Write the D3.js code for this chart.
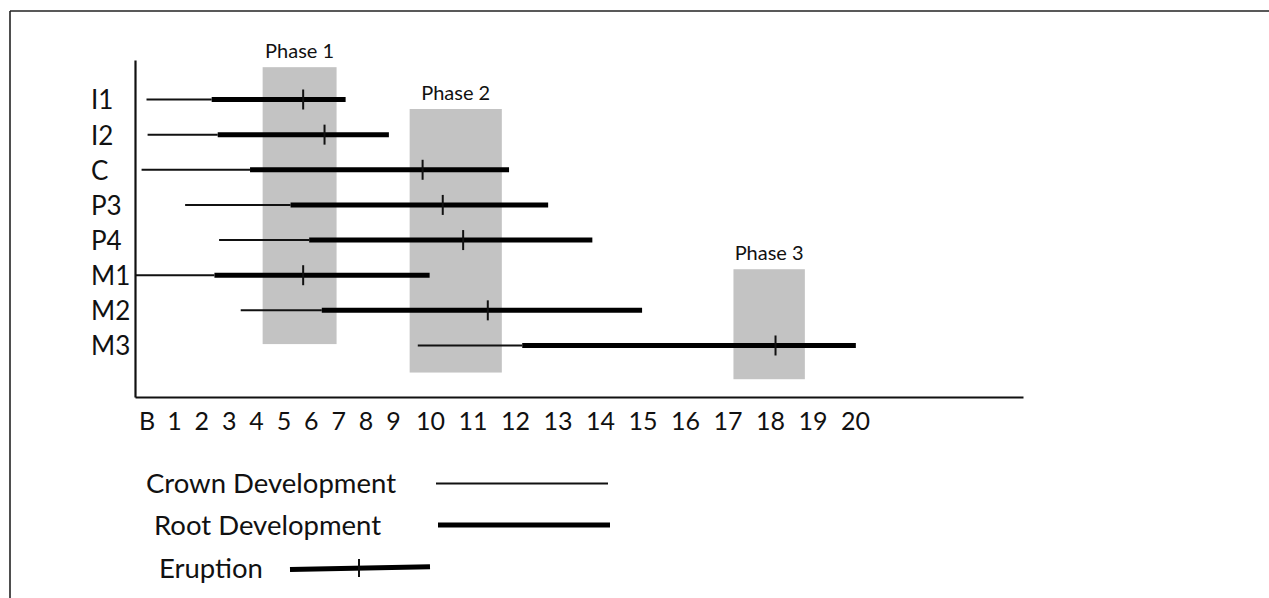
<!DOCTYPE html>
<html><head><meta charset="utf-8">
<script src="https://cdn.jsdelivr.net/npm/d3@7"></script>
<style>
body{margin:0;background:#fff}
svg{display:block}
text{font-family:Lato,"Open Sans",sans-serif;fill:#111}
</style>
</head><body>
<svg id="chart" width="1269" height="598"></svg>
<script>
// ---- data (ages in years) ----
const teeth = ["I1","I2","C","P3","P4","M1","M2","M3"];
const crownStart = [0.00, 0.04, -0.18, 1.41, 2.65, -0.42, 3.44, 9.67];
const rootStart  = [2.38, 2.60, 3.78, 5.26, 5.94, 2.48, 6.40, 12.17];
const rootEnd    = [7.27, 8.85, 11.86, 12.78, 13.82, 9.99, 14.99, 20.02];
const eruption   = [5.72, 6.50, 9.80, 10.30, 10.78, 5.72, 11.36, 18.13];

const tickValues = [0,1,2,3,4,5,6,7,8,9,10,11,12,13,14,15,16,17,18,19,20];
const tickLabels = ["B","1","2","3","4","5","6","7","8","9","10","11","12","13","14","15","16","17","18","19","20"];

const phaseNames = ["Phase 1","Phase 2","Phase 3"];
const phaseStart = [4.24, 9.45, 17.14];
const phaseEnd   = [6.94, 11.69, 18.82];
const phaseTopRow    = [-0.92, 0.27, 4.83];  // in row units (0 = I1, 7 = M3)
const phaseBottomRow = [6.96, 7.77, 7.96];

const legendLabels = ["Crown Development","Root Development","Eruption"];

// ---- scales ----
const svg = d3.select("#chart");
// label spacing on the axis is irregular (single vs double digit)
const x = d3.scaleLinear()
  .domain([-0.42, 0, 9, 10, 20, 23.95])
  .range([135, 146.5, 393, 430, 855, 1023]);
const y = d3.scalePoint().domain(teeth).range([60, 397]).padding(1.295).align(0.434);
const rowY = d3.scaleLinear().domain([0, teeth.length - 1]).range([y(teeth[0]), y(teeth[teeth.length - 1])]);

// ---- frame ----
svg.append("line").attr("x1",10).attr("x2",1269).attr("y1",11).attr("y2",11)
  .attr("stroke","#222").attr("stroke-width",1.6);
svg.append("line").attr("x1",10).attr("x2",10).attr("y1",11).attr("y2",598)
  .attr("stroke","#222").attr("stroke-width",1.6);

// ---- phase boxes ----
const phases = phaseNames.map((n,i)=>({name:n,s:phaseStart[i],e:phaseEnd[i],t:phaseTopRow[i],b:phaseBottomRow[i]}));
svg.append("g").selectAll("rect").data(phases).join("rect")
  .attr("x",d=>x(d.s)).attr("width",d=>x(d.e)-x(d.s))
  .attr("y",d=>rowY(d.t)).attr("height",d=>rowY(d.b)-rowY(d.t))
  .attr("fill","#c3c3c3");
svg.append("g").selectAll("text").data(phases).join("text")
  .attr("x",d=>(x(d.s)+x(d.e))/2).attr("y",d=>rowY(d.t)-9)
  .attr("text-anchor","middle").attr("font-size",20).text(d=>d.name);

// ---- axes ----
const xAxis = d3.axisBottom(x).tickValues(tickValues)
  .tickFormat((d,i)=>tickLabels[i]).tickSize(0).tickSizeOuter(0);
const gx = svg.append("g").attr("transform","translate(0,397)").call(xAxis);
gx.select(".domain").attr("stroke","#111").attr("stroke-width",2.2);
gx.selectAll("text").attr("font-size",25).attr("font-family","Lato, 'Open Sans', sans-serif")
  .attr("fill","#111").attr("y",33).attr("dy",0);

const yAxis = d3.axisLeft(y).tickSize(0).tickSizeOuter(0);
const gy = svg.append("g").attr("transform","translate(135,0)").call(yAxis);
gy.select(".domain").attr("stroke","#111").attr("stroke-width",2.2);
gy.selectAll("text").attr("font-size",26).attr("font-family","Lato, 'Open Sans', sans-serif")
  .attr("fill","#111").attr("text-anchor","start").attr("x",-44).attr("dy","0.36em");

// ---- bars ----
const rows = teeth.map((t,i)=>({t,cs:crownStart[i],rs:rootStart[i],re:rootEnd[i],er:eruption[i]}));
const g = svg.append("g");
g.selectAll(".crown").data(rows).join("line").attr("class","crown")
  .attr("x1",d=>x(d.cs)).attr("x2",d=>x(d.rs)).attr("y1",d=>y(d.t)).attr("y2",d=>y(d.t))
  .attr("stroke","#111").attr("stroke-width",2);
g.selectAll(".root").data(rows).join("line").attr("class","root")
  .attr("x1",d=>x(d.rs)).attr("x2",d=>x(d.re)).attr("y1",d=>y(d.t)).attr("y2",d=>y(d.t))
  .attr("stroke","#000").attr("stroke-width",5);
g.selectAll(".erupt").data(rows).join("line").attr("class","erupt")
  .attr("x1",d=>x(d.er)).attr("x2",d=>x(d.er)).attr("y1",d=>y(d.t)-10).attr("y2",d=>y(d.t)+10)
  .attr("stroke","#111").attr("stroke-width",2);

// ---- legend ----
const lg = svg.append("g");
lg.append("text").attr("x",146).attr("y",493).attr("font-size",27.5).text(legendLabels[0]);
lg.append("line").attr("x1",436).attr("x2",608).attr("y1",483.5).attr("y2",483.5)
  .attr("stroke","#111").attr("stroke-width",2);
lg.append("text").attr("x",154).attr("y",535).attr("font-size",27.5).text(legendLabels[1]);
lg.append("line").attr("x1",438).attr("x2",610).attr("y1",525).attr("y2",525)
  .attr("stroke","#000").attr("stroke-width",5);
lg.append("text").attr("x",159).attr("y",578).attr("font-size",27.5).text(legendLabels[2]);
lg.append("line").attr("x1",290).attr("x2",430).attr("y1",569.5).attr("y2",566.8)
  .attr("stroke","#000").attr("stroke-width",5);
lg.append("line").attr("x1",359).attr("x2",359).attr("y1",559).attr("y2",577)
  .attr("stroke","#111").attr("stroke-width",2);
</script>
</body></html>
